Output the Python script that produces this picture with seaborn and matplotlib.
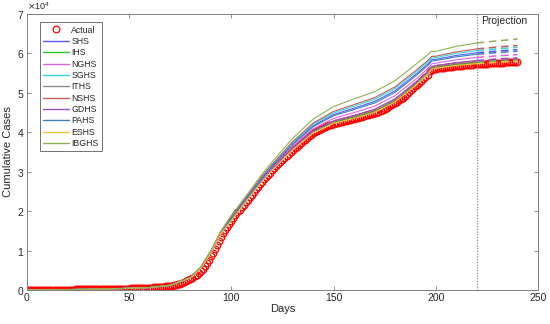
import matplotlib

matplotlib.use("Agg")
import matplotlib.pyplot as plt  # noqa: E402
import numpy as np  # noqa: E402
import pandas as pd  # noqa: E402
import seaborn as sns  # noqa: E402
from matplotlib.lines import Line2D  # noqa: E402
from matplotlib.ticker import ScalarFormatter  # noqa: E402

# Фактические данные, день 0..240
actual = [
    0, 2, 4, 7, 10, 14, 18, 22, 27, 32,
    38, 44, 50, 56, 62, 68, 74, 80, 86, 92,
    98, 104, 110, 117, 124, 131, 138, 145, 152, 160,
    168, 176, 184, 192, 200, 208, 216, 225, 234, 243,
    252, 262, 272, 282, 293, 304, 316, 328, 341, 355,
    370, 386, 403, 421, 440, 460, 482, 505, 530, 557,
    586, 617, 650, 686, 725, 768, 815, 866, 922, 985,
    1055, 1135, 1225, 1330, 1450, 1590, 1750, 1940, 2160, 2420,
    2720, 3060, 3440, 3860, 4320, 4830, 5400, 6050, 6780, 7600,
    8500, 9450, 10450, 11500, 12500, 13450, 14350, 15200, 16000, 16800,
    17550, 18250, 18950, 19650, 20300, 20950, 21600, 22250, 22900, 23550,
    24200, 24850, 25500, 26150, 26800, 27450, 28050, 28650, 29200, 29750,
    30300, 30850, 31400, 31950, 32500, 33000, 33500, 34000, 34500, 35000,
    35450, 35900, 36350, 36800, 37250, 37700, 38150, 38550, 38950, 39350,
    39700, 40050, 40350, 40650, 40900, 41150, 41350, 41550, 41750, 41950,
    42100, 42250, 42400, 42550, 42700, 42850, 42950, 43050, 43150, 43250,
    43350, 43500, 43650, 43800, 43950, 44100, 44250, 44400, 44550, 44700,
    44850, 45000, 45200, 45450, 45700, 45950, 46250, 46550, 46850, 47150,
    47450, 47750, 48050, 48400, 48800, 49200, 49650, 50100, 50600, 51100,
    51600, 52100, 52600, 53100, 53550, 54000, 54400, 55600, 55850, 56000,
    56100, 56180, 56260, 56330, 56400, 56470, 56530, 56590, 56650, 56710,
    56760, 56810, 56860, 56910, 56960, 57010, 57060, 57110, 57150, 57190,
    57230, 57270, 57310, 57350, 57390, 57420, 57450, 57480, 57510, 57540,
    57570, 57600, 57630, 57660, 57690, 57720, 57740, 57760, 57780, 57800,
    57820,
]
actual_days = list(range(len(actual)))

# Модели: дни до прогноза и прогнозный участок
fit_days = [0, 20, 40, 60, 70, 80, 85, 90, 95, 100, 105, 110, 115, 120, 130,
            140, 150, 160, 170, 180, 190, 196, 198, 200, 210, 220]
proj_days = [220, 230, 240]

models = ["SHS", "IHS", "NGHS", "SGHS", "ITHS", "NSHS", "GDHS", "PAHS", "ESHS", "IBGHS"]

shs = [0, 98, 260, 619, 1177, 3128, 5646, 9724, 14674, 18250, 21710, 25060, 28480,
       31490, 37070, 41640, 44480, 46100, 47770, 50470, 54570, 57210, 58390, 58480,
       59460, 60150]
ihs = [0, 98, 258, 611, 1149, 3034, 5458, 9442, 14392, 17640, 21050, 24310, 27580,
       30450, 35660, 39950, 42410, 43710, 45230, 47840, 51990, 54760, 56180, 56410,
       57110, 57610]
nghs = [0, 98, 259, 615, 1164, 3084, 5558, 9592, 14542, 17970, 21400, 24710, 28060,
        31000, 36410, 40850, 43510, 44980, 46580, 49240, 53360, 56060, 57350, 57510,
        58360, 58960]
sghs = [0, 98, 261, 620, 1183, 3148, 5686, 9784, 14734, 18380, 21850, 25220, 28670,
        31710, 37370, 42000, 44920, 46610, 48310, 51030, 55120, 57730, 58860, 58920,
        59960, 60690]
iths = [0, 98, 259, 612, 1153, 3046, 5482, 9478, 14428, 17720, 21130, 24410, 27700,
        30590, 35840, 40170, 42670, 44010, 45550, 48180, 52320, 55080, 56460, 56670,
        57410, 57930]
nshs = [0, 98, 261, 622, 1188, 3164, 5718, 9832, 14782, 18490, 21960, 25350, 28820,
        31880, 37610, 42290, 45270, 47020, 48740, 51480, 55560, 58140, 59230, 59270,
        60360, 61120]
gdhs = [0, 98, 259, 613, 1156, 3056, 5502, 9508, 14458, 17780, 21200, 24490, 27790,
        30700, 35990, 40350, 42890, 44270, 45820, 48460, 52590, 55340, 56700, 56890,
        57660, 58200]
pahs = [0, 98, 260, 618, 1173, 3114, 5618, 9682, 14632, 18160, 21610, 24950, 28340,
        31330, 36860, 41390, 44170, 45750, 47390, 50080, 54190, 56840, 58060, 58170,
        59110, 59770]
eshs = [0, 98, 258, 610, 1147, 3026, 5442, 9418, 14368, 17590, 20990, 24250, 27510,
        30370, 35540, 39810, 42230, 43500, 45010, 47620, 51770, 54560, 55990, 56230,
        56910, 57390]
ibghs = [0, 98, 262, 626, 1205, 3220, 5830, 10000, 14950, 18850, 22350, 25800, 29350,
         32500, 38450, 43300, 46500, 48450, 50250, 53050, 57100, 59600, 60550, 60500,
         61760, 62630]

proj_shs = [60150, 60590, 60950]
proj_ihs = [57610, 57960, 58230]
proj_nghs = [58960, 59360, 59680]
proj_sghs = [60690, 61150, 61530]
proj_iths = [57930, 58300, 58570]
proj_nshs = [61120, 61600, 62000]
proj_gdhs = [58200, 58580, 58860]
proj_pahs = [59770, 60200, 60550]
proj_eshs = [57390, 57740, 57990]
proj_ibghs = [62630, 63170, 63620]

fit_values = [shs, ihs, nghs, sghs, iths, nshs, gdhs, pahs, eshs, ibghs]
proj_values = [proj_shs, proj_ihs, proj_nghs, proj_sghs, proj_iths,
               proj_nshs, proj_gdhs, proj_pahs, proj_eshs, proj_ibghs]

colors = ["#5a5aff", "#2ec42e", "#e060e0", "#30d8d8", "#8c8c8c",
          "#c05c5c", "#9a4fc0", "#3f7fbf", "#ffc040", "#8fb050"]

sns.set_theme(style="white")
plt.rcParams["font.family"] = ["Liberation Sans", "DejaVu Sans"]

fig = plt.figure(figsize=(5.5, 3.24), dpi=100)
ax = fig.add_axes([0.049, 0.105, 0.929, 0.852])

sns.lineplot(x=actual_days, y=actual, ax=ax, color="red", linestyle="",
             marker="o", markersize=4.8, markerfacecolor="none",
             markeredgecolor="red", markeredgewidth=0.9)

for name, vals, pvals, c in zip(models, fit_values, proj_values, colors):
    df = pd.DataFrame({"day": fit_days, "cases": vals})
    sns.lineplot(data=df, x="day", y="cases", ax=ax, color=c, linewidth=0.8,
                 sort=False)
    dp = pd.DataFrame({"day": proj_days, "cases": pvals})
    sns.lineplot(data=dp, x="day", y="cases", ax=ax, color=c, linewidth=1.1,
                 linestyle=(0, (5, 3)), sort=False)

ax.axvline(220, color="#8a8a8a", linestyle=(0, (1, 1.2)), linewidth=0.9)
ax.text(222, 69600, "Projection", fontsize=7.5, color="#262626", va="top", ha="left")

ax.set_xlim(0, 250)
ax.set_ylim(0, 70000)
ax.set_xticks([0, 50, 100, 150, 200, 250])
ax.set_yticks(np.arange(0, 70001, 10000))
fmt = ScalarFormatter(useMathText=True)
fmt.set_powerlimits((0, 0))
ax.yaxis.set_major_formatter(fmt)
ax.yaxis.get_offset_text().set_fontsize(6.5)
ax.yaxis.get_offset_text().set_color("#262626")

ax.set_xlabel("Days", fontsize=8, color="#262626", labelpad=1)
ax.set_ylabel("Cumulative Cases", fontsize=8, color="#262626", labelpad=3)
ax.tick_params(direction="in", length=3, width=0.6, colors="#808080",
               labelcolor="#262626", labelsize=7.5, top=True, right=True,
               bottom=True, left=True, pad=2)
for s in ax.spines.values():
    s.set_color("#808080")
    s.set_linewidth(0.7)

# легенда собирается вручную, чтобы цвета точно совпали
handles = [Line2D([], [], color="red", linestyle="", marker="o", markersize=4.8,
                  markerfacecolor="none", markeredgewidth=0.9)]
handles += [Line2D([], [], color=c, linewidth=1.0) for c in colors]
leg = ax.legend(handles=handles, labels=["Actual"] + models, loc="upper left",
                bbox_to_anchor=(0.016, 0.985), fontsize=6.3, frameon=True,
                fancybox=False, edgecolor="#333333", handlelength=3.0,
                handletextpad=0.3, labelspacing=0.27, borderpad=0.35)
leg.get_frame().set_linewidth(0.6)

fig.savefig("out.png", dpi=100)
